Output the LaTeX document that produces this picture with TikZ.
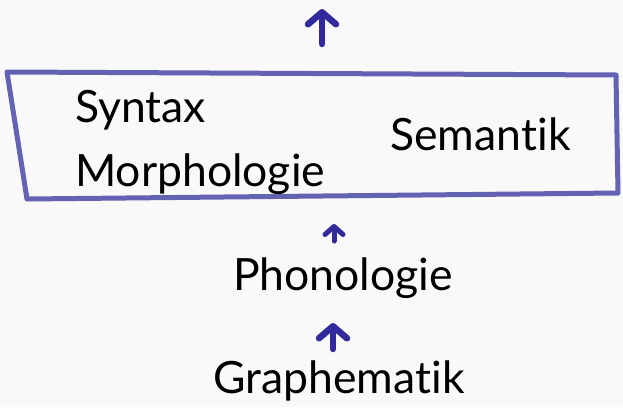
\documentclass[tikz,border=0pt]{standalone}
\usepackage{fontspec}
\setmainfont{Lato}[Ligatures={NoCommon}]
\usetikzlibrary{arrows.meta}
\definecolor{ink}{RGB}{50,42,156}
\definecolor{frame}{RGB}{100,98,178}
\definecolor{paper}{RGB}{249,249,249}
\begin{document}
\begin{tikzpicture}[x=1pt,y=-1pt,
  lbl/.style={inner sep=0pt,anchor=base west,font=\fontsize{44.5}{48}\selectfont},
  arr/.style={draw=ink,line width=6.5pt,line cap=round,line join=round,
    -{Straight Barb[length=12pt,width=28pt,line cap=round,line join=round]}},
  arrsmall/.style={arr,line width=5pt,
    -{Straight Barb[length=8pt,width=18pt,line cap=round,line join=round]}}]
  \fill[paper] (0,0) rectangle (623,407);
  \useasboundingbox (0,0) rectangle (623,407);

  % frame around the upper levels
  \coordinate (tl) at (7,72);
  \coordinate (tr) at (616,75);
  \coordinate (br) at (618,193);
  \coordinate (bl) at (27,199);
  \draw[frame,line width=5pt,line join=round,line cap=round]
    (tl) -- (tr) -- (br) -- (bl) -- cycle;

  % labels
  \node[lbl] (syn) at (75,122) {Syntax};
  \node[lbl] (mor) at (75,186) {Morphologie};
  \node[lbl] (sem) at (390,150) {Seman\kern0pt tik};
  \node[lbl] (pho) at (233,290) {Phonologie};
  \node[lbl] (gra) at (213,393) {Graphema\kern0pt tik};

  % arrows
  \coordinate (topS) at (322,44);
  \coordinate (topE) at (322,9);
  \coordinate (midS) at (334,241);
  \coordinate (midE) at (334,224);
  \coordinate (lowS) at (333,349);
  \coordinate (lowE) at (333,323);
  \draw[arr] (topS) -- (topE);
  \draw[arrsmall] (midS) -- (midE);
  \draw[arr] (lowS) -- (lowE);
\end{tikzpicture}
\end{document}
